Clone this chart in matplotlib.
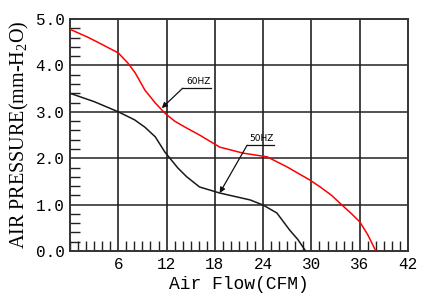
import matplotlib
matplotlib.use("Agg")
import matplotlib.pyplot as plt
from matplotlib.ticker import MultipleLocator

flow_60 = [0, 2.2, 3.9, 6, 7.2, 8.1, 9.3, 10.6, 11.8, 13, 14.5, 16.1, 18.6, 21.5, 24.5, 27, 29.8, 31.1, 32.5, 33.8, 35, 36, 37, 38]
pres_60 = [4.78, 4.61, 4.46, 4.27, 4.05, 3.84, 3.47, 3.19, 2.97, 2.80, 2.65, 2.50, 2.24, 2.11, 2.03, 1.81, 1.53, 1.38, 1.20, 0.99, 0.80, 0.63, 0.35, 0.0]
flow_50 = [0, 3, 6, 8, 9.3, 10.6, 11.8, 13.4, 14.5, 16.1, 18.6, 22.4, 24, 25.7, 27.3, 28.3, 29.2]
pres_50 = [3.40, 3.22, 3.0, 2.83, 2.67, 2.46, 2.13, 1.79, 1.60, 1.38, 1.25, 1.10, 0.99, 0.82, 0.45, 0.25, 0.02]
x_ticks = [6, 12, 18, 24, 30, 36, 42]
y_ticks = [0.0, 1.0, 2.0, 3.0, 4.0, 5.0]

plt.rcParams['mathtext.fontset'] = 'custom'
plt.rcParams['mathtext.rm'] = 'Liberation Serif'

fig = plt.figure(figsize=(4.28, 2.98), dpi=100)
ax = fig.add_axes([0.1636, 0.1577, 0.7897, 0.7783])
ax.set_xlim(0, 42)
ax.set_ylim(0, 5)

for x in x_ticks[:-1]:
    ax.axvline(x, color='#111111', lw=1.1, zorder=1)
for y in y_ticks[1:-1]:
    ax.axhline(y, color='#222222', lw=1.1, zorder=1)

ax.plot(flow_60, pres_60, color='#ff0000', lw=1.1, zorder=3)
ax.plot(flow_50, pres_50, color='#1a1a1a', lw=1.1, zorder=3)

ax.set_xticks(x_ticks)
ax.set_yticks(y_ticks)
ax.set_xticklabels([str(v) for v in x_ticks], family='Liberation Mono', fontsize=11.5)
ax.set_yticklabels(['%.1f' % v for v in y_ticks], family='Liberation Mono', fontsize=11.5)
ax.xaxis.set_minor_locator(MultipleLocator(1))
ax.yaxis.set_minor_locator(MultipleLocator(0.2))
ax.tick_params(which='both', direction='in', color='#222222', width=1.0)
ax.tick_params(which='major', length=0, pad=4)
ax.tick_params(which='minor', length=7)
ax.tick_params(top=False, right=False)
for s in ax.spines.values():
    s.set_color('#333333')
    s.set_linewidth(1.4)

ax.set_xlabel('Air Flow(CFM)', family='Liberation Mono', fontsize=13, labelpad=3)
ax.set_ylabel('AIR PRESSURE(mm-H$_{2}$O)', family='Liberation Serif', fontsize=14.5, labelpad=3)

# annotations
ax.annotate('', xy=(11.4, 3.08), xytext=(14.0, 3.51),
            arrowprops=dict(arrowstyle='-|>', color='#111111', lw=0.9, mutation_scale=8, shrinkA=0, shrinkB=0))
ax.plot([14.0, 17.5], [3.51, 3.51], color='#111111', lw=0.9)
ax.text(14.4, 3.56, '60HZ', fontsize=6.5, family='DejaVu Sans', va='bottom')

ax.annotate('', xy=(18.6, 1.25), xytext=(22.0, 2.28),
            arrowprops=dict(arrowstyle='-|>', color='#111111', lw=0.9, mutation_scale=8, shrinkA=0, shrinkB=0))
ax.plot([22.0, 25.3], [2.28, 2.28], color='#111111', lw=0.9)
ax.text(22.3, 2.33, '50HZ', fontsize=6.5, family='DejaVu Sans', va='bottom')

fig.savefig('out.png', dpi=100)
